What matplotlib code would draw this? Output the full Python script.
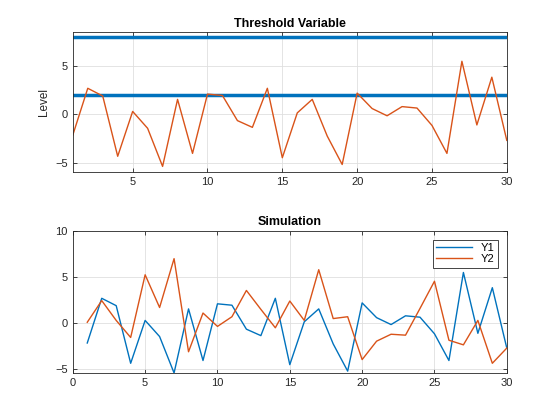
import matplotlib
matplotlib.use("Agg")
import numpy as np
import matplotlib.pyplot as plt

plt.rcParams["font.family"] = ["Liberation Sans", "DejaVu Sans"]

# ── Data ──────────────────────────────────────────────────────────────
steps = np.arange(1, 31)
y1 = [-2.15, 2.7, 1.9, -4.35, 0.3, -1.45, -5.4, 1.55, -4.05, 2.1,
      1.95, -0.65, -1.35, 2.7, -4.5, 0.15, 1.55, -2.25, -5.2, 2.2,
      0.6, -0.15, 0.8, 0.65, -1.15, -4.05, 5.5, -1.1, 3.85, -2.7]
y2 = [0.1, 2.45, 0.3, -1.55, 5.25, 1.7, 7.0, -3.1, 1.1, -0.35,
      0.7, 3.55, 1.5, -0.5, 2.4, 0.3, 5.8, 0.5, 0.7, -3.95,
      -1.95, -1.2, -1.3, 1.6, 4.55, -1.85, -2.35, 0.3, -4.35, -2.7]
thresholds = [8, 2]

BLUE = "#0072BD"
ORANGE = "#D95319"
AXCOL = "#262626"


def style_axes(ax):
    for s in ax.spines.values():
        s.set_color(AXCOL)
        s.set_linewidth(0.6)
    ax.tick_params(direction="in", length=3, width=0.6, colors=AXCOL,
                   labelsize=8, top=True, right=True,
                   labeltop=False, labelright=False)
    ax.grid(True, color="#dfdfdf", linewidth=0.6)
    ax.set_axisbelow(True)


fig = plt.figure(figsize=(5.6, 4.2), dpi=100)

# ── Top: threshold variable ───────────────────────────────────────────
ax1 = fig.add_axes([0.130, 0.590, 0.775, 0.333])
style_axes(ax1)
for t in thresholds:
    ax1.axhline(t, color=BLUE, linewidth=2.5)
ax1.plot(steps, y1, color=ORANGE, linewidth=1.0)
ax1.set_xlim(1, 30)
ax1.set_ylim(-6, 8.5)
ax1.set_xticks([5, 10, 15, 20, 25, 30])
ax1.set_yticks([-5, 0, 5])
ax1.set_ylabel("Level", fontsize=8.5, color=AXCOL)
ax1.set_title("Threshold Variable", fontsize=9, fontweight="bold",
              color="black", pad=4)

# ── Bottom: simulation ────────────────────────────────────────────────
ax2 = fig.add_axes([0.130, 0.112, 0.775, 0.338])
style_axes(ax2)
ax2.plot(steps, y1, color=BLUE, linewidth=1.0, label="Y1")
ax2.plot(steps, y2, color=ORANGE, linewidth=1.0, label="Y2")
ax2.set_xlim(0, 30)
ax2.set_ylim(-5.4, 10)
ax2.set_xticks([0, 5, 10, 15, 20, 25, 30])
ax2.set_yticks([-5, 0, 5, 10])
ax2.set_title("Simulation", fontsize=9, fontweight="bold",
              color="black", pad=4)
leg = ax2.legend(loc="upper right", fontsize=8, fancybox=False,
                 framealpha=1, edgecolor=AXCOL, handlelength=3.2,
                 borderpad=0.3, labelspacing=0.1, borderaxespad=0.8)
leg.get_frame().set_linewidth(0.6)

fig.savefig("out.png", dpi=100)
